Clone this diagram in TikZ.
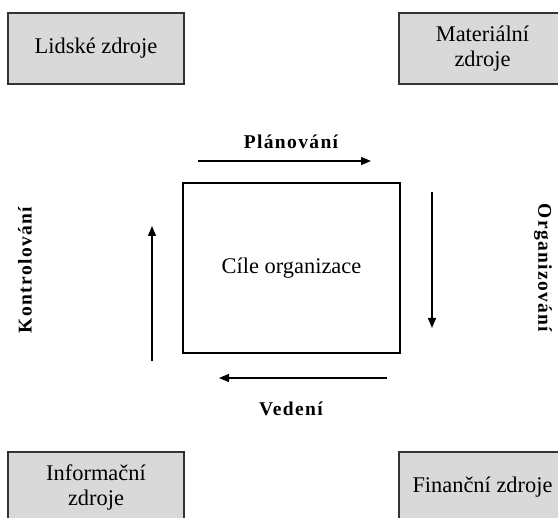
\documentclass[tikz,border=0pt]{standalone}
\usepackage{fontspec}
\setmainfont{Liberation Serif}
\usetikzlibrary{arrows.meta}
\definecolor{boxgray}{HTML}{D9D9D9}
\definecolor{boxline}{HTML}{333333}
\tikzset{
  res/.style={draw=boxline, line width=1.5pt, fill=boxgray, align=center,
    font=\fontsize{22.4}{25}\selectfont, inner sep=0pt},
  goal/.style={draw=black, line width=1.2pt, fill=white, align=center,
    font=\fontsize{22.4}{25}\selectfont, inner sep=0pt,
    minimum width=217pt, minimum height=170pt},
  flow/.style={line width=1.3pt, -{Triangle[length=10pt,width=8pt]}},
  lbl/.style={inner sep=0pt, font=\fontsize{19.5}{22}\selectfont\bfseries\addfontfeatures{LetterSpace=7}}
}
\begin{document}
\begin{tikzpicture}[x=1pt,y=-1pt]
\useasboundingbox (0,0) rectangle (558,518);
\begin{scope}
\clip (0,0) rectangle (558,518);
\node[res, minimum width=176pt, minimum height=71pt] (hr) at (96,48.5) {Lidské zdroje};
\node[res, minimum width=167pt, minimum height=71pt] (mat) at (482.5,48.5) {Materiální\\zdroje};
\node[res, minimum width=176pt, minimum height=71pt] (inf) at (96,487.5) {Informační\\zdroje};
\node[res, minimum width=167pt, minimum height=71pt] (fin) at (482.5,487.5) {Finanční zdroje};
\end{scope}
\node[goal] (goal) at (291.5,268) {Cíle organizace};

\coordinate (p1) at (198,161);
\coordinate (p2) at (371,161);
\coordinate (o1) at (432,192);
\coordinate (o2) at (432,328);
\coordinate (v1) at (387,378);
\coordinate (v2) at (219,378);
\coordinate (k1) at (152,361);
\coordinate (k2) at (152,226);

\draw[flow] (p1) -- (p2);
\draw[flow] (o1) -- (o2);
\draw[flow] (v1) -- (v2);
\draw[flow] (k1) -- (k2);

\node[lbl] (plan) at (291,142) {Plánování};
\node[lbl] (org) at (543,268) [rotate=-90] {Organizování};
\node[lbl] (ved) at (291,409) {Vedení};
\node[lbl] (kon) at (25,270) [rotate=90] {Kontrolování};
\end{tikzpicture}
\end{document}
